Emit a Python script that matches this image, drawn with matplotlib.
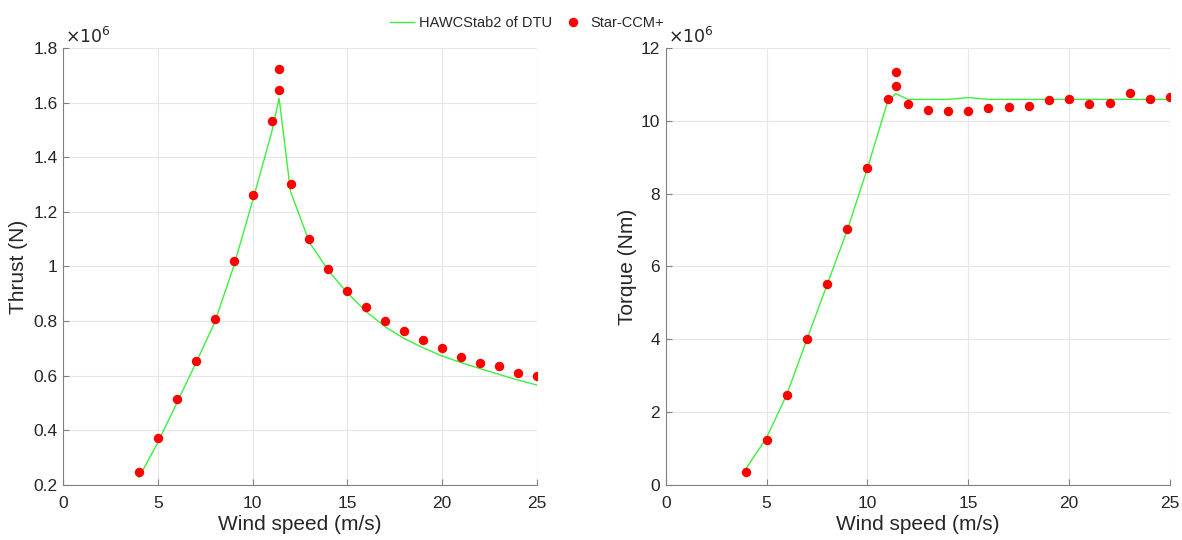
import matplotlib
matplotlib.use("Agg")
import matplotlib.pyplot as plt
from matplotlib.ticker import FuncFormatter

plt.rcParams['font.family'] = ['Liberation Sans', 'DejaVu Sans']

# wind speeds (m/s)
ws_hawc = [4, 5, 6, 7, 8, 9, 10, 11, 11.4, 12, 13, 14, 15, 16, 17, 18, 19, 20, 21, 22, 23, 24, 25]
ws_ccm = [4, 5, 6, 7, 8, 9, 10, 11, 11.4, 11.4, 12, 13, 14, 15, 16, 17, 18, 19, 20, 21, 22, 23, 24, 25]

# thrust in MN
thrust_hawc = [0.227, 0.355, 0.500, 0.645, 0.795, 1.000, 1.240, 1.490, 1.616, 1.275, 1.088, 0.985,
               0.903, 0.834, 0.779, 0.736, 0.702, 0.672, 0.648, 0.626, 0.605, 0.584, 0.566]
thrust_ccm = [0.249, 0.371, 0.516, 0.655, 0.806, 1.020, 1.262, 1.534, 1.647, 1.725, 1.302, 1.102,
              0.990, 0.911, 0.850, 0.800, 0.762, 0.732, 0.701, 0.667, 0.645, 0.637, 0.611, 0.599]

# torque in MNm
torque_hawc = [0.46, 1.30, 2.48, 4.00, 5.50, 7.00, 8.70, 10.53, 10.75, 10.59, 10.59, 10.59,
               10.64, 10.59, 10.59, 10.59, 10.59, 10.59, 10.59, 10.59, 10.59, 10.59, 10.59]
torque_ccm = [0.36, 1.24, 2.46, 4.00, 5.53, 7.02, 8.71, 10.59, 10.97, 11.34, 10.45, 10.29,
              10.27, 10.28, 10.35, 10.37, 10.41, 10.57, 10.59, 10.47, 10.50, 10.77, 10.60, 10.66]

txt = '#262626'
axcol = '#808080'
green = '#3cf03c'

fig = plt.figure(figsize=(11.82, 5.4), dpi=100)
ax1 = fig.add_axes([0.0533, 0.102, 0.401, 0.809])
ax2 = fig.add_axes([0.5632, 0.102, 0.4267, 0.809])


def style(ax, ylim, yticks, ylabel, ylab_x):
    ax.set_xlim(0, 25)
    ax.set_ylim(*ylim)
    ax.set_xticks([0, 5, 10, 15, 20, 25])
    ax.set_yticks(yticks)
    ax.yaxis.set_major_formatter(FuncFormatter(lambda v, p: '%g' % round(v, 3)))
    ax.grid(True, color='#e6e6e6', lw=0.8)
    ax.set_axisbelow(True)
    for s in ['top', 'right']:
        ax.spines[s].set_visible(False)
    for s in ['left', 'bottom']:
        ax.spines[s].set_color(axcol)
        ax.spines[s].set_linewidth(0.8)
    ax.tick_params(direction='in', length=4, width=0.8, color=axcol,
                   labelsize=12.5, labelcolor=txt)
    ax.tick_params(axis='x', pad=8)
    ax.tick_params(axis='y', pad=4)
    ax.set_xlabel('Wind speed (m/s)', fontsize=15, color=txt, labelpad=3)
    ax.set_ylabel(ylabel, fontsize=15, color=txt)
    ax.yaxis.set_label_coords(ylab_x, 0.5)
    ax.text(0.004, 1.005, r'$\times10^{6}$', transform=ax.transAxes, fontsize=12.5,
            color=txt, ha='left', va='bottom')


ax1.plot(ws_hawc, thrust_hawc, color=green, lw=1.0, label='HAWCStab2 of DTU', zorder=2)
ax1.plot(ws_ccm, thrust_ccm, 'o', color='#ff0000', ms=6.8, mec='none', label='Star-CCM+', zorder=3)
style(ax1, (0.2, 1.8), [0.2, 0.4, 0.6, 0.8, 1.0, 1.2, 1.4, 1.6, 1.8], 'Thrust (N)', -0.074)

ax2.plot(ws_hawc, torque_hawc, color=green, lw=1.0, zorder=2)
ax2.plot(ws_ccm, torque_ccm, 'o', color='#ff0000', ms=6.8, mec='none', zorder=3)
style(ax2, (0, 12), [0, 2, 4, 6, 8, 10, 12], 'Torque (Nm)', -0.057)

h, l = ax1.get_legend_handles_labels()
fig.legend(h, l, loc='center', bbox_to_anchor=(0.446, 0.957), ncol=2, frameon=False,
           fontsize=10.5, handlelength=1.6, columnspacing=0.6, handletextpad=0.4,
           labelcolor=txt)

fig.savefig('out.png', dpi=100)
